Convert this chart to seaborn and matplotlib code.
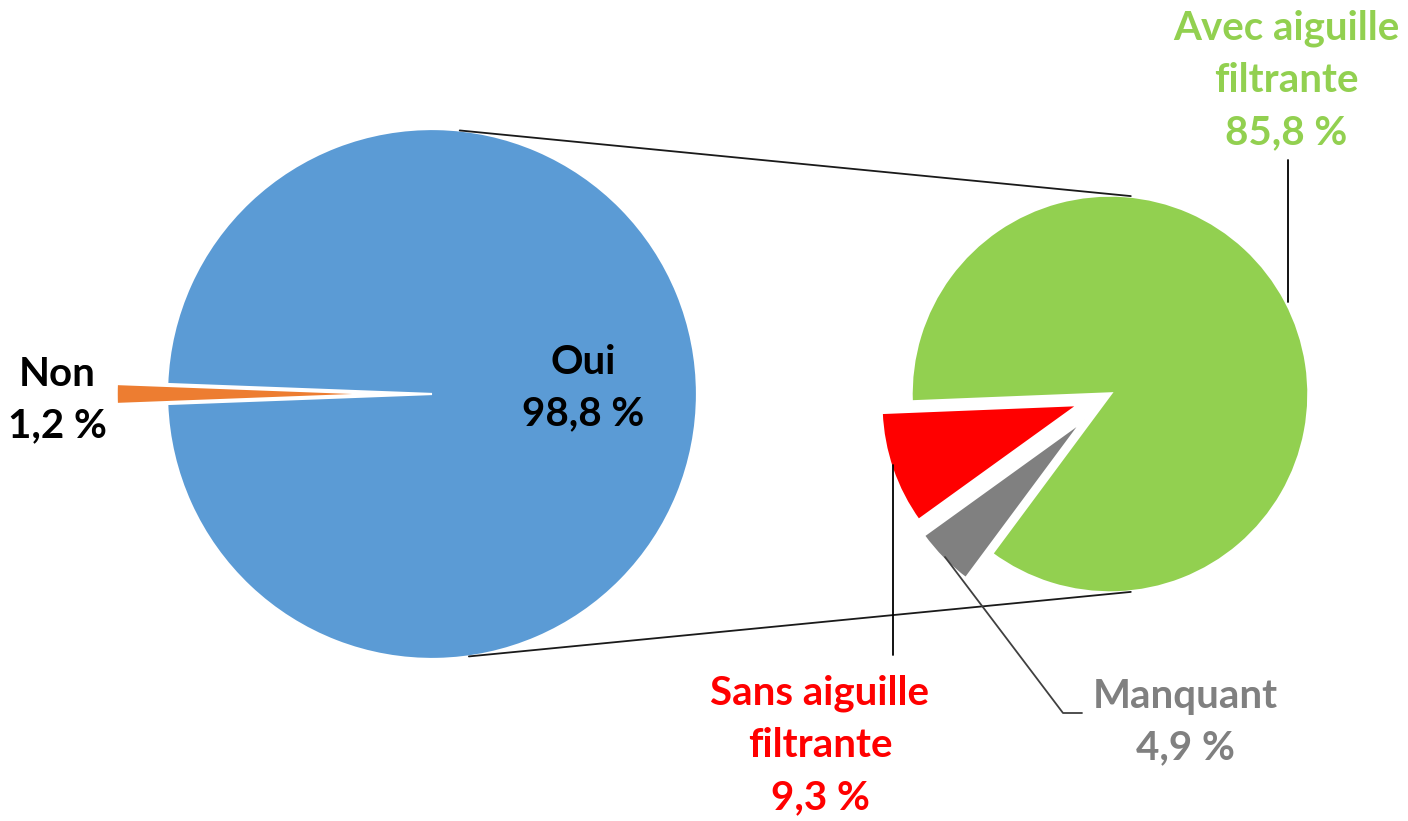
import numpy as np
import matplotlib
matplotlib.use("Agg")
import matplotlib.pyplot as plt
import seaborn as sns

sns.set_theme(style="white")
plt.rcParams['font.family'] = ['Lato', 'DejaVu Sans']

# ---- data ----
main_labels = ["Oui", "Non"]
main_values = [98.8, 1.2]
main_colors = ["#5B9BD5", "#ED7D31"]

sub_labels = ["Avec aiguille\nfiltrante", "Sans aiguille\nfiltrante", "Manquant"]
sub_values = [85.8, 9.3, 4.9]
sub_colors = ["#92D050", "#FF0000", "#808080"]

W, H = 1408, 821
fig = plt.figure(figsize=(W / 100, H / 100), dpi=100)
ax = fig.add_axes([0, 0, 1, 1])

def py(y):
    return H - y

c1 = (432, py(394)); r1 = 265
c2 = (1110, py(394)); r2 = 199

wp = dict(edgecolor="white", linewidth=1.6)
# main pie: Non centred on the left (180 deg); explode is in data units
non_span = main_values[1] / 100 * 360
ax.pie(main_values, colors=main_colors, center=c1, radius=r1,
       startangle=180 + non_span / 2, explode=[0, 0.19 * r1],
       wedgeprops=wp, frame=True)

# sub pie
green_span = sub_values[0] / 100 * 360
ax.pie(sub_values, colors=sub_colors, center=c2, radius=r2,
       startangle=182.3 - green_span + 360, explode=[0, 0.16 * r2, 0.18 * r2],
       wedgeprops=dict(edgecolor="white", linewidth=2.5), frame=True)
ax.set_xlim(0, W)
ax.set_ylim(0, H)
ax.set_aspect("equal")
ax.axis("off")

# connector lines
def pt(c, r, a):
    return (c[0] + r * np.cos(np.radians(a)), c[1] + r * np.sin(np.radians(a)))

for a1, a2 in [(84, 84), (-82, -84)]:
    p1 = pt(c1, r1, a1); p2 = pt(c2, r2, a2)
    ax.plot([p1[0], p2[0]], [p1[1], p2[1]], color="#1a1a1a", lw=1.3)

fs = 29
ls = 1.5
def fmt(v):
    return f"{v:.1f} %".replace(".", ",")

ax.text(583, py(388), f"{main_labels[0]}\n{fmt(main_values[0])}",
        ha="center", va="center", fontsize=fs, fontweight="bold",
        color="black", linespacing=ls)
ax.text(57, py(400), f"{main_labels[1]}\n{fmt(main_values[1])}",
        ha="center", va="center", fontsize=fs, fontweight="bold",
        color="black", linespacing=ls)

ax.text(1286, py(80), f"{sub_labels[0]}\n{fmt(sub_values[0])}",
        ha="center", va="center", fontsize=fs, fontweight="bold",
        color=sub_colors[0], linespacing=ls)
ax.text(820, py(745), f"{sub_labels[1]}\n{fmt(sub_values[1])}",
        ha="center", va="center", fontsize=fs, fontweight="bold",
        color=sub_colors[1], linespacing=ls)
ax.text(1185, py(722), f"{sub_labels[2]}\n{fmt(sub_values[2])}",
        ha="center", va="center", fontsize=fs, fontweight="bold",
        color=sub_colors[2], linespacing=ls)

# leader lines
ax.plot([1288, 1288], [py(160), py(302)], color="black", lw=1.3)
ax.plot([893, 893], [py(465), py(655)], color="black", lw=1.3)
ax.plot([945, 1063, 1082], [py(557), py(713), py(713)], color="#404040", lw=1.3)

fig.savefig("out.png", dpi=100)
